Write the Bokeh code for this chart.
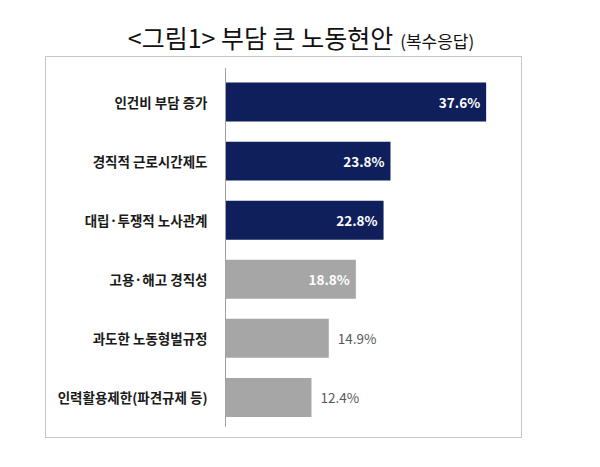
from bokeh.plotting import figure
from bokeh.models import Range1d, ColumnDataSource, LabelSet, Div
from bokeh.layouts import column
from bokeh.core.properties import value
from bokeh.embed import file_html
from bokeh.resources import INLINE

title_main = "<그림1> 부담 큰 노동현안"
title_sub = "(복수응답)"
categories = ["인건비 부담 증가", "경직적 근로시간제도", "대립·투쟁적 노사관계",
              "고용·해고 경직성", "과도한 노동형벌규정", "인력활용제한(파견규제 등)"]
values = [37.6, 23.8, 22.8, 18.8, 14.9, 12.4]
value_labels = ["37.6%", "23.8%", "22.8%", "18.8%", "14.9%", "12.4%"]
bar_colors = ["#0f1f5c", "#0f1f5c", "#0f1f5c", "#a6a6a6", "#a6a6a6", "#a6a6a6"]
label_inside = [True, True, True, True, False, False]

FONT = "Noto Sans CJK KR"
n = len(categories)
idx = list(range(n))

src = ColumnDataSource(dict(
    y=idx, v=values, color=bar_colors, cat=categories, lab=value_labels,
    zero=[0] * n,
))
in_src = ColumnDataSource(dict(
    y=[i for i in idx if label_inside[i]],
    v=[values[i] for i in idx if label_inside[i]],
    lab=[value_labels[i] for i in idx if label_inside[i]],
))
out_src = ColumnDataSource(dict(
    y=[i for i in idx if not label_inside[i]],
    v=[values[i] for i in idx if not label_inside[i]],
    lab=[value_labels[i] for i in idx if not label_inside[i]],
))

W = 584
TOP = 46
H = 394


def esc(s):
    return s.replace("&", "&amp;").replace("<", "&lt;").replace(">", "&gt;")


div = Div(
    text=(f'<span style="font-size:25px">{esc(title_main)}</span>'
          f'<span style="font-size:17px; margin-left:7px">{esc(title_sub)}</span>'),
    width=W, height=TOP,
    styles={"font-family": FONT, "color": "#111111", "text-align": "center",
            "line-height": "26px", "padding-top": "19px", "padding-left": "8px",
            "box-sizing": "border-box", "white-space": "nowrap"},
)

p = figure(width=W, height=H, output_backend="svg", toolbar_location=None,
           x_range=Range1d(-25.97, 42.7), y_range=Range1d(n - 1 + 0.678, -0.771),
           min_border_left=45, min_border_right=63, min_border_top=0,
           min_border_bottom=13)
p.axis.visible = False
p.grid.visible = False
p.outline_line_color = "#8a8a8a"
p.outline_line_dash = "1 1"
p.outline_line_width = 1
p.background_fill_color = "white"
p.border_fill_color = "white"

p.hbar(y="y", left="zero", right="v", height=0.66, fill_color="color",
       line_color=None, source=src)

# axis line
p.segment(x0=0, y0=-0.58, x1=0, y1=n - 0.5, line_color="#a0a0a0", line_width=1)

p.add_layout(LabelSet(x="zero", y="y", text="cat", source=src, x_offset=-18,
                      text_align="right", text_baseline="middle",
                      text_font=value(FONT), text_font_size="13.5px",
                      text_font_style="bold", text_color="#1a1a1a"))
p.add_layout(LabelSet(x="v", y="y", text="lab", source=in_src, x_offset=-6,
                      text_align="right", text_baseline="middle",
                      text_font=value(FONT), text_font_size="13.5px",
                      text_font_style="bold", text_color="white"))
p.add_layout(LabelSet(x="v", y="y", text="lab", source=out_src, x_offset=9,
                      text_align="left", text_baseline="middle",
                      text_font=value(FONT), text_font_size="13.5px",
                      text_color="#595959"))

layout = column(div, p, spacing=0)
open("out.html", "w").write(file_html(layout, INLINE))
